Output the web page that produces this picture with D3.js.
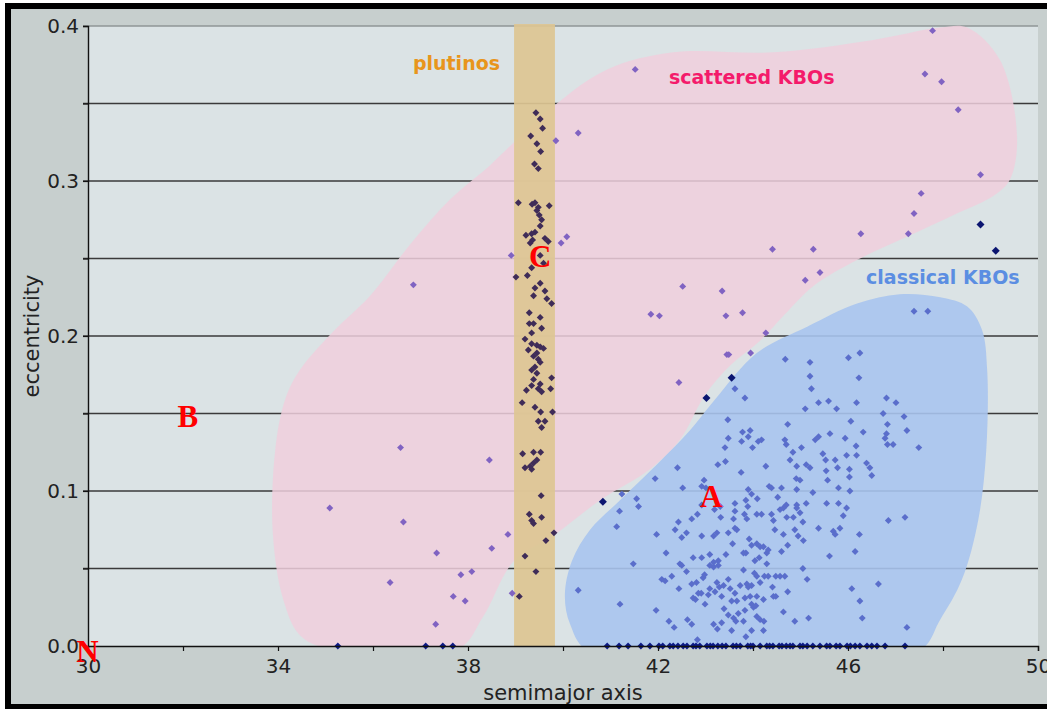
<!DOCTYPE html>
<html>
<head>
<meta charset="utf-8">
<script src="https://cdn.jsdelivr.net/npm/d3@7"></script>
<style>
  html, body { margin: 0; padding: 0; background: #ffffff; }
  #chart svg { display: block; }
</style>
</head>
<body>
<div id="chart"></div>
<script>
// semimajor axis (AU) and eccentricity of Kuiper belt objects

const xTicks = [30, 32, 34, 36, 38, 40, 42, 44, 46, 48, 50];
const xLabels = [30, 34, 38, 42, 46, 50];
const yTicks = [0, 0.05, 0.1, 0.15, 0.2, 0.25, 0.3, 0.35, 0.4];
const yLabels = [0, 0.1, 0.2, 0.3, 0.4];

// plutino band (3:2 resonance) in AU
const plutinoBand = [38.97, 39.83];

const plutinos = [
  [39.43, 0.344], [39.52, 0.340], [39.57, 0.334], [39.32, 0.329], [39.45, 0.324],
  [39.53, 0.319], [39.40, 0.311], [39.48, 0.308], [39.06, 0.286], [39.35, 0.285],
  [39.41, 0.286], [39.48, 0.283], [39.71, 0.284], [39.45, 0.281], [39.50, 0.278],
  [39.55, 0.275], [39.52, 0.271], [39.41, 0.267], [39.34, 0.266], [39.22, 0.265],
  [39.36, 0.262], [39.62, 0.263], [39.69, 0.261], [39.31, 0.260], [39.52, 0.252],
  [39.59, 0.247], [39.34, 0.244], [39.01, 0.238], [39.25, 0.239], [39.52, 0.234],
  [39.41, 0.231], [39.38, 0.226], [39.62, 0.229], [39.66, 0.224], [39.76, 0.221],
  [39.29, 0.215], [39.52, 0.212], [39.29, 0.208], [39.38, 0.208], [39.55, 0.205],
  [39.34, 0.202], [39.20, 0.198], [39.34, 0.195], [39.45, 0.194], [39.52, 0.193],
  [39.59, 0.192], [39.27, 0.191], [39.45, 0.189], [39.38, 0.187], [39.48, 0.185],
  [39.52, 0.183], [39.41, 0.180], [39.34, 0.178], [39.45, 0.176], [39.38, 0.172],
  [39.52, 0.169], [39.76, 0.173], [39.34, 0.168], [39.23, 0.165], [39.48, 0.166],
  [39.55, 0.164], [39.74, 0.166], [39.14, 0.157], [39.41, 0.154], [39.53, 0.151],
  [39.78, 0.151], [39.48, 0.145], [39.62, 0.145], [39.55, 0.141], [39.15, 0.124],
  [39.38, 0.125], [39.53, 0.125], [39.45, 0.120], [39.38, 0.118], [39.31, 0.116],
  [39.20, 0.115], [39.34, 0.114], [39.54, 0.097], [39.29, 0.085], [39.55, 0.083],
  [39.34, 0.081], [39.38, 0.079], [39.81, 0.073], [39.64, 0.068], [39.20, 0.058],
  [39.43, 0.048], [39.08, 0.032]
];

const scattered = [
  [38.91, 0.252], [36.85, 0.233], [36.58, 0.128], [38.45, 0.120], [35.09, 0.089],
  [36.64, 0.080], [38.84, 0.072], [38.50, 0.063], [37.34, 0.060], [38.08, 0.048],
  [37.85, 0.046], [36.36, 0.041], [37.69, 0.032], [37.94, 0.029], [38.93, 0.034],
  [37.32, 0.014], [47.78, 0.397], [41.52, 0.372], [47.62, 0.369], [47.97, 0.364],
  [48.32, 0.346], [40.32, 0.331], [39.85, 0.326], [48.79, 0.304], [47.54, 0.292],
  [47.39, 0.279], [39.96, 0.260], [40.08, 0.264], [46.27, 0.266], [47.27, 0.266],
  [44.41, 0.256], [45.27, 0.256], [45.41, 0.241], [45.10, 0.236], [42.52, 0.232],
  [43.35, 0.229], [41.85, 0.214], [42.03, 0.213], [43.43, 0.213], [43.78, 0.215],
  [44.27, 0.202], [43.45, 0.188], [43.49, 0.188], [43.95, 0.189], [42.44, 0.170]
];

const classical = [
  [47.39, 0.216], [47.68, 0.216], [44.68, 0.185], [45.20, 0.183], [46.01, 0.186],
  [46.25, 0.189], [45.20, 0.174], [46.23, 0.173], [43.62, 0.166], [45.23, 0.166],
  [46.81, 0.160], [43.83, 0.160], [47.01, 0.157], [47.18, 0.148], [47.24, 0.139],
  [47.49, 0.128], [47.20, 0.083], [47.24, 0.012], [40.32, 0.036],
  [45.10, 0.153], [45.76, 0.153], [46.18, 0.157], [45.38, 0.157], [45.59, 0.158],
  [46.74, 0.150], [43.47, 0.146], [44.73, 0.143], [46.06, 0.145], [46.83, 0.143],
  [46.32, 0.138], [43.78, 0.138], [43.94, 0.139], [43.48, 0.134], [43.76, 0.132],
  [43.90, 0.135], [44.11, 0.132], [44.18, 0.133], [43.99, 0.128], [44.67, 0.133],
  [44.70, 0.130], [45.02, 0.128], [45.31, 0.133], [45.38, 0.135], [45.62, 0.137],
  [45.94, 0.134], [46.81, 0.137], [46.78, 0.134], [46.83, 0.130], [46.95, 0.130],
  [43.41, 0.128], [44.84, 0.125], [45.47, 0.124], [45.53, 0.120], [45.97, 0.123],
  [46.17, 0.129], [46.18, 0.123], [45.73, 0.120], [46.39, 0.118], [43.26, 0.117],
  [43.42, 0.119], [44.27, 0.116], [44.78, 0.120], [44.92, 0.116], [45.12, 0.117],
  [45.20, 0.115], [45.54, 0.113], [45.78, 0.115], [46.03, 0.114], [46.46, 0.115],
  [46.50, 0.110], [42.41, 0.115], [41.94, 0.108], [43.75, 0.112], [44.91, 0.108],
  [44.99, 0.107], [45.57, 0.107], [46.03, 0.109], [42.97, 0.107], [42.92, 0.103],
  [43.01, 0.102], [42.52, 0.102], [43.90, 0.101], [44.34, 0.103], [44.39, 0.102],
  [44.60, 0.102], [44.92, 0.101], [45.26, 0.099], [45.80, 0.102], [46.04, 0.100],
  [41.24, 0.098], [41.55, 0.095], [41.59, 0.090], [41.19, 0.087], [42.92, 0.091],
  [43.19, 0.088], [43.31, 0.090], [43.62, 0.092], [43.85, 0.094], [43.97, 0.098],
  [44.09, 0.095], [44.52, 0.096], [44.70, 0.091], [44.92, 0.091], [44.92, 0.089],
  [45.12, 0.092], [45.55, 0.092], [45.80, 0.092], [45.97, 0.089], [43.62, 0.087],
  [43.82, 0.085], [43.89, 0.090], [44.08, 0.085], [44.18, 0.085], [44.39, 0.085],
  [44.57, 0.088], [44.64, 0.089], [44.85, 0.083], [44.99, 0.086], [45.90, 0.084],
  [46.85, 0.081], [41.13, 0.077], [42.36, 0.075], [42.43, 0.080], [42.71, 0.082],
  [42.83, 0.085], [43.32, 0.083], [43.59, 0.082], [43.87, 0.082], [44.43, 0.081],
  [44.71, 0.083], [45.05, 0.080], [45.38, 0.076], [45.69, 0.074], [45.83, 0.076],
  [41.97, 0.072], [42.50, 0.070], [42.60, 0.073], [42.92, 0.071], [43.17, 0.071],
  [43.24, 0.073], [43.48, 0.073], [43.66, 0.075], [43.62, 0.076], [44.46, 0.075],
  [44.64, 0.072], [44.88, 0.075], [44.95, 0.071], [45.06, 0.068], [45.73, 0.072],
  [46.24, 0.072], [43.57, 0.066], [43.92, 0.069], [44.08, 0.066], [43.97, 0.065],
  [44.15, 0.064], [44.22, 0.064], [43.85, 0.060], [44.29, 0.060], [44.32, 0.062],
  [44.73, 0.065], [44.60, 0.061], [46.15, 0.061], [45.61, 0.058], [42.17, 0.060],
  [42.74, 0.057], [42.92, 0.057], [43.09, 0.059], [43.17, 0.054], [43.27, 0.055],
  [43.43, 0.059], [43.80, 0.060], [44.04, 0.055], [44.13, 0.057], [44.29, 0.053],
  [43.17, 0.051], [43.09, 0.052], [43.27, 0.052], [41.48, 0.053], [42.46, 0.053],
  [42.50, 0.052], [42.60, 0.048], [43.80, 0.049], [44.03, 0.047], [44.08, 0.045],
  [44.24, 0.045], [44.32, 0.045], [44.48, 0.045], [44.57, 0.045], [44.67, 0.045],
  [45.05, 0.050], [45.14, 0.043], [42.08, 0.043], [42.15, 0.042], [42.29, 0.045],
  [42.71, 0.040], [42.81, 0.041], [42.95, 0.044], [42.98, 0.046], [43.09, 0.037],
  [43.24, 0.041], [43.29, 0.038], [43.38, 0.039], [43.48, 0.043], [43.52, 0.037],
  [43.73, 0.039], [43.87, 0.040], [43.90, 0.038], [43.97, 0.039], [44.15, 0.041],
  [44.08, 0.032], [44.41, 0.038], [44.48, 0.032], [44.73, 0.035], [46.08, 0.037],
  [46.64, 0.040], [42.44, 0.037], [42.85, 0.034], [42.74, 0.031], [42.79, 0.030],
  [42.91, 0.034], [42.99, 0.027], [43.06, 0.033], [43.20, 0.035], [43.34, 0.032],
  [43.62, 0.034], [43.66, 0.029], [43.83, 0.031], [43.94, 0.032], [43.55, 0.029],
  [43.97, 0.027], [44.01, 0.025], [44.06, 0.026], [44.22, 0.030], [44.43, 0.032],
  [41.20, 0.027], [41.96, 0.023], [43.39, 0.024], [43.48, 0.020], [43.59, 0.018],
  [43.69, 0.021], [43.83, 0.023], [44.08, 0.019], [44.15, 0.017], [44.23, 0.016],
  [44.64, 0.022], [44.88, 0.016], [45.17, 0.018], [46.25, 0.029], [46.30, 0.018],
  [42.23, 0.016], [42.34, 0.012], [42.62, 0.017], [42.71, 0.014], [43.17, 0.014],
  [43.25, 0.011], [43.34, 0.015], [43.55, 0.010], [43.64, 0.016], [43.80, 0.016],
  [43.97, 0.010], [43.85, 0.006], [44.22, 0.010], [42.83, 0.004]
];

// dark, larger markers
const highlighted = [
  [48.79, 0.272], [49.11, 0.255], [43.55, 0.173], [43.02, 0.160], [40.84, 0.093]
];

// objects listed with zero eccentricity (semimajor axis only)
const circularA = [
  35.26, 37.11, 37.47, 37.68,
  40.93, 41.18, 41.37, 41.64, 41.83, 42.02, 42.10, 42.25, 42.32, 42.42, 42.53,
  42.61, 42.74, 42.80, 42.88, 43.03, 43.10, 43.16, 43.26, 43.35, 43.43, 43.58,
  43.65, 43.73, 43.89, 43.95, 44.00, 44.15, 44.29, 44.35, 44.42, 44.55, 44.61,
  44.70, 44.78, 44.84, 44.99, 45.05, 45.14, 45.26, 45.41, 45.55, 45.62, 45.75,
  45.83, 45.98, 46.05, 46.15, 46.25, 46.40, 46.50, 46.61, 46.78, 47.20
];

// outlines of the shaded populations (semimajor axis, eccentricity)
const scatteredRegion = [
  [38.97, 0.325], [39.87, 0.350], [40.93, 0.372], [42.32, 0.383], [44.42, 0.383],
  [46.53, 0.391], [47.94, 0.399], [48.51, 0.399], [49.20, 0.378], [49.56, 0.328],
  [49.41, 0.301], [49.09, 0.291], [48.29, 0.279], [47.24, 0.264], [46.19, 0.249],
  [45.26, 0.232], [44.67, 0.214], [44.15, 0.197], [43.52, 0.181], [42.99, 0.162],
  [42.46, 0.133], [41.83, 0.114], [40.78, 0.094], [39.83, 0.072], [38.97, 0.055],
  [38.32, 0.019], [37.79, -0.002], [35.09, -0.002], [34.46, 0.007], [34.11, 0.030],
  [33.89, 0.073], [33.94, 0.126], [34.15, 0.159], [34.46, 0.178], [35.20, 0.204],
  [35.94, 0.226], [36.78, 0.259], [37.62, 0.288], [38.46, 0.310]
];

const classicalRegion = [
  [43.20, 0.159], [44.08, 0.189], [45.14, 0.206], [46.19, 0.221], [47.09, 0.227],
  [47.94, 0.225], [48.51, 0.219], [48.82, 0.204], [48.93, 0.178], [48.91, 0.126],
  [48.74, 0.081], [48.40, 0.043], [47.94, 0.017], [47.45, -0.004], [40.57, -0.004],
  [40.15, 0.014], [40.04, 0.033], [40.19, 0.055], [40.57, 0.075], [41.20, 0.094],
  [42.04, 0.119], [42.67, 0.139]
];

const groupLabels = [
  { text: "plutinos", a: 36.84, e: 0.3716, color: "#e8951c" },
  { text: "scattered KBOs", a: 42.23, e: 0.3626, color: "#f41b6b" },
  { text: "classical KBOs", a: 46.38, e: 0.2335, color: "#5b8ee2" }
];

const letters = [
  { text: "A", a: 43.12, e: 0.0897 },
  { text: "B", a: 32.10, e: 0.1413 },
  { text: "C", a: 39.52, e: 0.2445 },
  { text: "N", a: 29.99, e: -0.0103 }
];

const W = 1047, H = 709;
const plot = { left: 88, right: 1038, top: 26, bottom: 646 };

const svg = d3
  .select("#chart")
  .append("svg")
  .attr("width", W)
  .attr("height", H);

// frame
svg.append("rect").attr("x", 5).attr("y", 3).attr("width", W).attr("height", H).attr("fill", "#000");
svg.append("rect").attr("x", 11).attr("y", 9).attr("width", W).attr("height", 695).attr("fill", "#c7cfce");

const x = d3.scaleLinear().domain([30, 50]).range([plot.left, plot.right]);
const y = d3.scaleLinear().domain([0, 0.4]).range([plot.bottom, plot.top]);

svg
  .append("rect")
  .attr("x", plot.left)
  .attr("y", plot.top)
  .attr("width", plot.right - plot.left)
  .attr("height", plot.bottom - plot.top)
  .attr("fill", "#dbe3e5");

svg
  .append("defs")
  .append("clipPath")
  .attr("id", "clip-plot")
  .append("rect")
  .attr("x", plot.left)
  .attr("y", plot.top - 2)
  .attr("width", plot.right - plot.left)
  .attr("height", plot.bottom - plot.top + 2);

// gridlines
svg
  .append("g")
  .selectAll("line")
  .data(yTicks.filter((d) => d > 0))
  .join("line")
  .attr("x1", plot.left - 5)
  .attr("x2", plot.right)
  .attr("y1", (d) => y(d))
  .attr("y2", (d) => y(d))
  .attr("stroke", (d) => (d === 0.4 ? "#8f9696" : "#3a3a3a"))
  .attr("stroke-width", 1.6);

const area = svg.append("g").attr("clip-path", "url(#clip-plot)");

const blob = d3
  .line()
  .x(function (d) {
    return x(d[0]);
  })
  .y(function (d) {
    return y(d[1]);
  })
  .curve(d3.curveCatmullRomClosed.alpha(0.5));

area
  .append("path")
  .datum(scatteredRegion)
  .attr("d", blob)
  .attr("fill", "#f0cfdd")
  .attr("fill-opacity", 0.85);

area
  .append("path")
  .datum(classicalRegion)
  .attr("d", blob)
  .attr("fill", "#a9c4ee")
  .attr("fill-opacity", 0.9);

svg
  .append("rect")
  .attr("x", x(plutinoBand[0]))
  .attr("y", y(0.4) - 2)
  .attr("width", x(plutinoBand[1]) - x(plutinoBand[0]))
  .attr("height", y(0) - y(0.4) + 2)
  .attr("fill", "#ddc592")
  .attr("fill-opacity", 0.92);

// markers: small squares turned 45 degrees
const marker = d3.symbol().type(d3.symbolSquare).size(24);
const markerBig = d3.symbol().type(d3.symbolSquare).size(32);

function drawPoints(data, color, sym) {
  svg
    .append("g")
    .selectAll("path")
    .data(data)
    .join("path")
    .attr("d", sym)
    .attr("transform", (d) => "translate(" + x(d[0]) + "," + y(d[1]) + ") rotate(45)")
    .attr("fill", color);
}

drawPoints(scattered, "#8063c2", marker);
drawPoints(classical, "#5a6ecb", marker);
drawPoints(plutinos, "#3f2c58", marker);
drawPoints(circularA.map((a) => [a, 0]), "#0c1a86", marker);
drawPoints(highlighted, "#0b1570", markerBig);

// axes
const xAxis = d3
  .axisBottom(x)
  .tickValues(xTicks)
  .tickSize(5)
  .tickPadding(8)
  .tickFormat((d) => (xLabels.includes(d) ? d : ""));

const gx = svg
  .append("g")
  .attr("transform", "translate(0," + plot.bottom + ")")
  .call(xAxis);

const yAxis = d3
  .axisLeft(y)
  .tickValues(yTicks)
  .tickSize(5)
  .tickPadding(4)
  .tickFormat((d) => (yLabels.some((v) => Math.abs(v - d) < 1e-9) ? d3.format(".1f")(d) : ""));

const gy = svg
  .append("g")
  .attr("transform", "translate(" + plot.left + ",0)")
  .call(yAxis);

[gx, gy].forEach(function (g) {
  g.select(".domain").attr("stroke", "#111").attr("stroke-width", 1.4);
  g.selectAll(".tick line").attr("stroke", "#111").attr("stroke-width", 1.2);
  g.selectAll(".tick text")
    .attr("fill", "#222")
    .style("font-family", "'DejaVu Sans', Verdana, sans-serif")
    .style("font-size", "20px");
});

svg
  .append("text")
  .attr("x", (plot.left + plot.right) / 2)
  .attr("y", 700)
  .attr("text-anchor", "middle")
  .attr("fill", "#222")
  .style("font-family", "'DejaVu Sans', Verdana, sans-serif")
  .style("font-size", "21px")
  .text("semimajor axis");

svg
  .append("text")
  .attr("transform", "translate(39," + (plot.top + plot.bottom) / 2 + ") rotate(-90)")
  .attr("text-anchor", "middle")
  .attr("fill", "#222")
  .style("font-family", "'DejaVu Sans', Verdana, sans-serif")
  .style("font-size", "21px")
  .text("eccentricity");

// group labels
svg
  .append("g")
  .selectAll("text")
  .data(groupLabels)
  .join("text")
  .attr("x", (d) => x(d.a))
  .attr("y", (d) => y(d.e))
  .attr("fill", (d) => d.color)
  .style("font-family", "'DejaVu Sans', Verdana, sans-serif")
  .style("font-weight", "bold")
  .style("font-size", "19px")
  .text((d) => d.text);

// red annotation letters
svg
  .append("g")
  .selectAll("text")
  .data(letters)
  .join("text")
  .attr("x", (d) => x(d.a))
  .attr("y", (d) => y(d.e))
  .attr("text-anchor", "middle")
  .attr("fill", "#ff0000")
  .style("font-family", "'Liberation Serif', 'Times New Roman', serif")
  .style("font-weight", "bold")
  .style("font-size", "31px")
  .text((d) => d.text);
</script>
</body>
</html>
